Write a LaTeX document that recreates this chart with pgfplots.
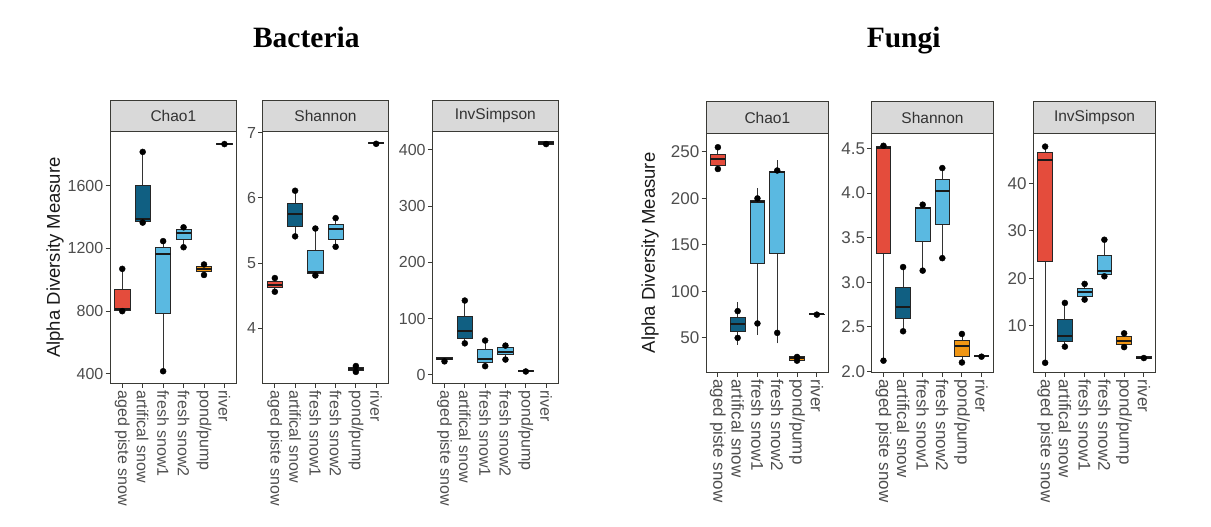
\documentclass[border=0pt]{standalone}
\usepackage{pgfplots}
\pgfplotsset{compat=1.18}
\usepackage{fontspec}
\setmainfont{Liberation Sans}
\newfontfamily\titlefont{Liberation Serif}
\definecolor{cred}{HTML}{E44C3C}
\definecolor{cdark}{HTML}{105F82}
\definecolor{clight}{HTML}{5AB9E1}
\definecolor{corange}{HTML}{F09614}
\definecolor{stripgrey}{HTML}{D9D9D9}
\definecolor{framec}{HTML}{3A3A35}
\definecolor{tickc}{HTML}{4D4D4D}
\pgfplotsset{
  facet/.style={
    scale only axis, anchor=south west,
    xmin=0.4, xmax=6.6, xtick={1,2,3,4,5,6},
    xticklabels={aged piste snow,artifical snow,fresh snow1,fresh snow2,pond/pump,river},
    tick align=outside, tick pos=left, major tick length=4.5pt,
    axis line style={framec, line width=0.9pt},
    every tick/.style={framec, line width=0.9pt},
    tick label style={font=\fontsize{16}{18}\selectfont, text=tickc},
    xticklabel style={rotate=-90, anchor=west, inner sep=2.5pt},
    yticklabel style={inner sep=2pt},
    /pgf/number format/assume math mode=true,
    /pgf/number format/1000 sep={},
    scaled y ticks=false,
    clip=false,
  },
  dots/.style={only marks, mark=*, mark size=3pt, black},
}
% #1 position, #2 lower whisker, #3 lower quartile, #4 median, #5 upper quartile, #6 upper whisker, #7 fill
\newcommand{\bx}[7]{%
  \pgfmathsetmacro\xl{#1-0.375}%
  \pgfmathsetmacro\xr{#1+0.375}%
  \edef\bxtmp{%
    \noexpand\addplot[draw=black!80, line width=0.8pt] coordinates {(#1,#2) (#1,#6)};%
    \noexpand\addplot[draw=black!85, line width=0.8pt, fill=#7] coordinates {(\xl,#3) (\xr,#3) (\xr,#5) (\xl,#5)} -- cycle;%
    \noexpand\addplot[draw=black!90, line width=2pt] coordinates {(\xl,#4) (\xr,#4)};%
  }\bxtmp}
\newcommand{\strip}[3]{%
  \draw[fill=stripgrey, draw=framec, line width=0.9pt] (rel axis cs:0,1) rectangle ([yshift=#2pt]rel axis cs:1,1);
  \node[font=\fontsize{15.5}{17}\selectfont, text=black!80] at ([yshift=#3pt]rel axis cs:0.5,1) {#1};}
\newcommand{\ylab}[1]{\node[rotate=90, font=\fontsize{18.5}{20}\selectfont, text=black!90] at ([xshift=-#1pt]rel axis cs:0,0.5) {Alpha Diversity Measure};}
\begin{document}
\begin{tikzpicture}
\path[use as bounding box] (0,0) rectangle (1211pt,527pt);
\node[anchor=base, font=\titlefont\bfseries\fontsize{29.5}{32}\selectfont] at (306.3pt,479.3pt) {Bacteria};
\node[anchor=base, font=\titlefont\bfseries\fontsize{29.5}{32}\selectfont] at (903.7pt,479.3pt) {Fungi};

% Bacteria Chao1
\begin{axis}[facet, at={(110pt,143.7pt)}, width=126.7pt, height=251.6pt,
  ymin=340, ymax=1945, ytick={400,800,1200,1600}]
\bx{1}{800}{803}{815}{937}{1070}{cred}
\bx{2}{1365}{1370}{1388}{1600}{1816}{cdark}
\bx{3}{417}{789}{1166}{1204}{1247}{clight}
\bx{4}{1208}{1258}{1298}{1320}{1335}{clight}
\bx{5}{1031}{1052}{1070}{1084}{1098}{corange}
\bx{6}{1862}{1864}{1868}{1872}{1874}{white}
\addplot[dots] coordinates {
(1,800) (1,1070) (2,1816) (2,1365) (3,1247) (3,417) (4,1335) (4,1208)
(5,1098) (5,1031) (6,1866)};
\strip{Chao1}{31.7}{15.85}
\ylab{55}
\end{axis}

% Bacteria Shannon
\begin{axis}[facet, at={(262.7pt,143.7pt)}, width=125.6pt, height=251.6pt,
  ymin=3.155, ymax=7.016, ytick={4,5,6,7}]
\bx{1}{4.56}{4.62}{4.67}{4.72}{4.77}{cred}
\bx{2}{5.41}{5.57}{5.76}{5.92}{6.11}{cdark}
\bx{3}{4.81}{4.84}{4.86}{5.19}{5.53}{clight}
\bx{4}{5.25}{5.36}{5.53}{5.59}{5.69}{clight}
\bx{5}{3.33}{3.35}{3.37}{3.40}{3.42}{corange}
\bx{6}{6.82}{6.83}{6.84}{6.85}{6.86}{white}
\addplot[dots] coordinates {
(1,4.77) (1,4.56) (2,6.11) (2,5.41) (3,5.53) (3,4.81) (4,5.69) (4,5.25)
(5,3.42) (5,3.33) (6,6.83)};
\strip{Shannon}{31.7}{15.85}
\end{axis}

% Bacteria InvSimpson
\begin{axis}[facet, at={(432.3pt,143.7pt)}, width=126pt, height=251.6pt,
  ymin=-15, ymax=432, ytick={0,100,200,300,400}]
\bx{1}{24}{26.6}{28.5}{31.5}{32.5}{cred}
\bx{2}{56}{65}{78}{104.6}{132}{cdark}
\bx{3}{15.4}{21.8}{28.5}{45.6}{61}{clight}
\bx{4}{27.2}{35.5}{41.4}{48.4}{52}{clight}
\bx{5}{5}{6}{7}{8}{9}{corange}
\bx{6}{408}{410}{412}{414}{416}{white}
\addplot[dots] coordinates {
(1,24) (2,132) (2,56) (3,61) (3,15.4) (4,52) (4,27.2)
(5,6) (6,410)};
\strip{InvSimpson}{31.7}{15.85}
\end{axis}

% Fungi Chao1
\begin{axis}[facet, at={(706pt,154.7pt)}, width=122.7pt, height=239pt,
  ymin=13, ymax=270, ytick={50,100,150,200,250},
  tick label style={font=\fontsize{17}{19}\selectfont, text=tickc}]
\bx{1}{231.6}{235.5}{242.4}{247.4}{255}{cred}
\bx{2}{42.4}{56.5}{65}{71.6}{88.9}{cdark}
\bx{3}{53.6}{130}{196}{198}{211}{clight}
\bx{4}{44}{141}{228}{229}{241.7}{clight}
\bx{5}{24}{26}{28}{30}{31}{corange}
\bx{6}{74}{74.8}{75.2}{75.6}{76}{white}
\addplot[dots] coordinates {
(1,255) (1,231.6) (2,78.8) (2,50) (3,200) (3,65.5) (4,230) (4,55.4)
(5,29.5) (5,25.5) (6,75)};
\strip{Chao1}{31.6}{15.8}
\ylab{56}
\end{axis}

% Fungi Shannon
\begin{axis}[facet, at={(871.7pt,154.7pt)}, width=121.6pt, height=239pt,
  ymin=1.99, ymax=4.67, ytick={2,2.5,3,3.5,4,4.5},
  tick label style={font=\fontsize{17}{19}\selectfont, text=tickc},
  yticklabel style={/pgf/number format/.cd, fixed, fixed zerofill, precision=1}]
\bx{1}{2.12}{3.32}{4.51}{4.52}{4.54}{cred}
\bx{2}{2.45}{2.59}{2.72}{2.94}{3.17}{cdark}
\bx{3}{3.13}{3.46}{3.83}{3.84}{3.87}{clight}
\bx{4}{3.27}{3.65}{4.02}{4.15}{4.28}{clight}
\bx{5}{2.10}{2.17}{2.28}{2.35}{2.42}{corange}
\bx{6}{2.16}{2.165}{2.17}{2.175}{2.18}{white}
\addplot[dots] coordinates {
(1,4.53) (1,2.12) (2,3.17) (2,2.45) (3,3.87) (3,3.13) (4,4.28) (4,3.27)
(5,2.42) (5,2.10) (6,2.165)};
\strip{Shannon}{31.6}{15.8}
\end{axis}

% Fungi InvSimpson
\begin{axis}[facet, at={(1033.3pt,154.7pt)}, width=122.4pt, height=239pt,
  ymin=0.2, ymax=50.5, ytick={10,20,30,40},
  tick label style={font=\fontsize{17}{19}\selectfont, text=tickc}]
\bx{1}{2.2}{23.5}{44.8}{46.4}{47.7}{cred}
\bx{2}{5.6}{6.8}{7.9}{11.4}{14.8}{cdark}
\bx{3}{15.5}{16.2}{17.1}{17.8}{18.8}{clight}
\bx{4}{20.4}{20.7}{21.6}{24.7}{28.1}{clight}
\bx{5}{5.5}{6.1}{6.8}{7.7}{8.4}{corange}
\bx{6}{3.0}{3.1}{3.3}{3.5}{3.6}{white}
\addplot[dots] coordinates {
(1,47.7) (1,2.2) (2,14.8) (2,5.6) (3,18.8) (3,15.5) (4,28.1) (4,20.4)
(5,8.4) (5,5.5) (6,3.2)};
\strip{InvSimpson}{31.6}{15.8}
\end{axis}
\end{tikzpicture}
\end{document}
